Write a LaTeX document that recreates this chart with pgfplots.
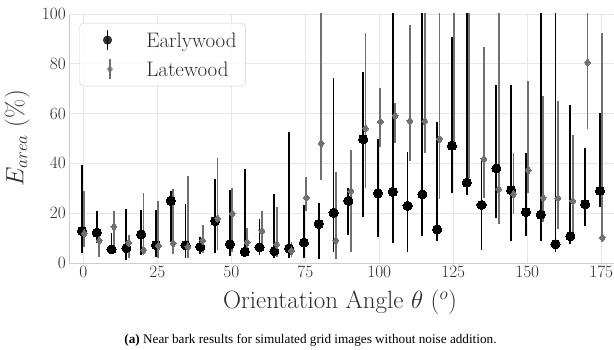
\documentclass[border=0pt]{standalone}
\usepackage{pgfplots}
\pgfplotsset{compat=1.18}
\usepackage{pgfplotstable}
\usepackage{fontspec}
\newfontfamily\capfont{Liberation Serif}

\definecolor{earlyc}{RGB}{0,0,0}
\definecolor{latec}{RGB}{112,112,112}
\definecolor{gridc}{RGB}{230,230,230}
\definecolor{spinec}{RGB}{205,205,205}
\definecolor{labelc}{RGB}{45,45,45}

% angle, mean E_area, lower and upper bound of the spread
\pgfplotstableread{
ang val lo hi
0   12.9  3.9  39.4
5   12.2  7.9  20.9
10   5.5  4.0  11.9
15   6.0  1.2  21.5
20  11.5  3.2  21.3
25   7.2  2.5  21.3
30  25.0  8.6  28.9
35   7.2  1.9  23.7
40   6.5  3.5  10.6
45  16.9  4.0  33.7
50   7.5  2.8  29.3
55   4.5  2.5  37.6
60   6.3  3.2  17.5
65   4.8  1.9  27.7
70   5.9  2.2  52.7
75   8.2  1.9  23.3
80  15.7  1.5  24.0
85  20.2  4.5  74.4
90  25.0 11.2  30.0
95  49.7 18.6  76.6
100 28.0 10.6  49.7
105 28.6  7.9 130.0
110 23.0  4.3  44.7
115 27.6 10.8 130.0
120 13.5  9.0  56.5
125 47.1 28.0  90.9
130 32.3 27.3 130.0
135 23.3  5.2  41.4
140 38.0 17.9  71.5
145 29.3  9.0  71.5
150 20.4 10.8  44.0
155 19.4  9.0 130.0
160  7.6  4.5 130.0
165 10.8  7.5  63.5
170 23.6 14.9  46.3
175 29.0 22.6  60.4
}\earlywood

\pgfplotstableread{
ang val lo hi
0   11.9  6.5  28.9
5    9.0  2.5  10.3
10  14.6  6.5  21.0
15   8.2  1.9  11.2
20   5.2  3.9  28.0
25   6.9  1.9  24.8
30   7.9  3.5  29.6
35   6.5  1.9  35.1
40   9.0  4.0  15.3
45  17.9  5.2  42.0
50  19.9  4.5  30.2
55   8.3  4.0  13.9
60  12.9  5.9  20.9
65   7.5  2.5  22.6
70   4.9  2.5   8.6
75  26.2 20.9  34.4
80  48.1 33.3 130.0
85   9.0  1.5  36.4
90  28.9  4.5  45.4
95  54.1 30.2  92.5
100 56.7 46.7  70.4
105 59.2 48.3  64.1
110 57.1 41.1  95.6
115 57.0 44.0 130.0
120 49.8 25.6 130.0
125 110.0 47.4 150.0
130 110.0 34.0 150.0
135 41.8 26.0  86.9
140 29.7 15.7 130.0
145 27.7 19.6  44.0
150 37.3 28.0  73.1
155 26.2 16.6  67.1
160 26.0 13.5  65.2
165 24.9 11.9  51.4
170 80.6 53.7 130.0
175 10.3  8.5  92.2
}\latewood

\begin{document}
\begin{tikzpicture}
\begin{axis}[
  at={(69.3pt,-263pt)}, anchor=south west,
  scale only axis, width=544.7pt, height=249pt,
  xmin=-4.73, xmax=179.3, ymin=0, ymax=100,
  xtick={0,25,...,175}, ytick={0,20,...,100},
  major tick length=0pt,
  grid=major, major grid style={draw=gridc, line width=0.8pt},
  axis x line*=bottom, axis y line*=left,
  axis line style={draw=spinec, line width=0.8pt, -},
  tick label style={font=\fontsize{18}{20}\selectfont, text=labelc},
  xlabel={Orientation Angle $\theta$ $(^o)$},
  ylabel={$E_{area}$ $(\%)$},
  label style={font=\fontsize{25}{28}\selectfont, text=labelc},
  xlabel style={at={(axis description cs:0.497,-0.1835)}, anchor=base},
  ylabel style={at={(axis description cs:-0.0845,0.5)}, anchor=base},
  legend cell align=left,
  legend style={at={(0.0184,0.9639)}, anchor=north west,
    draw=spinec, fill=white, fill opacity=0.8, text opacity=1,
    rounded corners=4pt, font=\fontsize{21}{24}\selectfont, text=labelc,
    inner xsep=8pt, inner ysep=6pt, row sep=7.3pt,
    nodes={inner sep=1pt, text depth=0pt}},
  clip=true,
]
\addplot[only marks, mark=*, mark size=4.6pt,
  mark options={draw=earlyc, fill=earlyc, line width=0pt},
  xshift=-1.3pt,
  error bars/.cd, y dir=both, y explicit,
  error mark=none, error bar style={draw=earlyc, line width=1.8pt},
  /pgfplots/legend image code/.code={
    \path[draw=none, fill=none, sharp corners] (0pt,-10pt) rectangle (55.4pt,10pt);
    \draw[earlyc, line width=1.8pt, sharp corners] (20pt,-10pt) -- (20pt,10pt);
    \fill[earlyc, draw=none] (20pt,0pt) circle (4.6pt);
  }]
  table[x=ang, y=val,
        y error plus expr=\thisrow{hi}-\thisrow{val},
        y error minus expr=\thisrow{val}-\thisrow{lo}] {\earlywood};
\addlegendentry{Earlywood}

\addplot[only marks, mark=diamond*, mark size=4pt,
  mark options={draw=latec, fill=latec, line width=0pt},
  xshift=1.1pt,
  error bars/.cd, y dir=both, y explicit,
  error mark=none, error bar style={draw=latec, line width=1.8pt},
  /pgfplots/legend image code/.code={
    \path[draw=none, fill=none, sharp corners] (0pt,-10pt) rectangle (55.4pt,10pt);
    \draw[latec, line width=1.8pt, sharp corners] (20pt,-10pt) -- (20pt,10pt);
    \fill[latec, draw=none, sharp corners] (20pt,-4pt) -- (23pt,0pt) -- (20pt,4pt) -- (17pt,0pt) -- cycle;
  }]
  table[x=ang, y=val,
        y error plus expr=\thisrow{hi}-\thisrow{val},
        y error minus expr=\thisrow{val}-\thisrow{lo}] {\latewood};
\addlegendentry{Latewood}
\end{axis}
\node[anchor=base, font=\capfont\fontsize{13.2}{15}\selectfont] at (310.5pt,-343pt)
  {\textbf{(a)} Near bark results for simulated grid images without noise addition.};
\pgfresetboundingbox
\path[use as bounding box] (0pt,0pt) rectangle (614pt,-350pt);
\end{tikzpicture}
\end{document}
